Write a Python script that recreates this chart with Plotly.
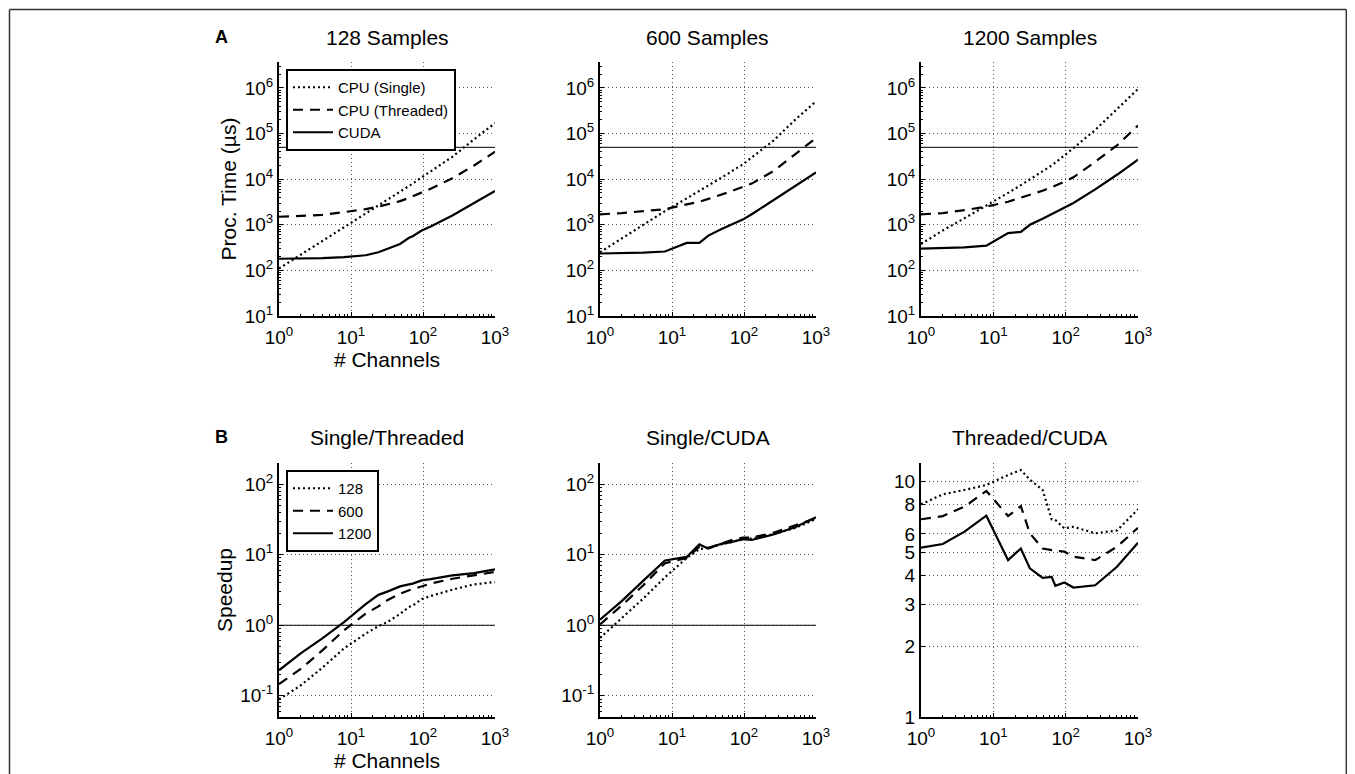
import plotly.graph_objects as go

channels = [1, 2, 4, 8, 16, 24, 32, 48, 64, 72, 96, 128, 256, 512, 1000]

# Panel A: processing time (µs)
t128_single = [110, 220, 440, 880, 1800, 2600, 3500, 5300, 7000, 8000, 11000, 15000, 31000, 75000, 170000]
t128_thread = [1500, 1550, 1650, 1900, 2200, 2500, 2800, 3300, 3900, 4200, 5200, 6200, 10500, 20000, 40000]
t128_cuda = [180, 182, 185, 195, 215, 250, 300, 380, 520, 560, 750, 920, 1600, 3000, 5500]

t600_single = [250, 500, 1000, 2000, 3800, 5500, 7200, 10500, 14000, 16000, 21000, 30000, 70000, 200000, 510000]
t600_thread = [1700, 1800, 2000, 2200, 2800, 3200, 3700, 4500, 5300, 5700, 6800, 8000, 15000, 35000, 80000]
t600_cuda = [235, 238, 245, 260, 400, 400, 580, 800, 980, 1050, 1300, 1700, 3500, 7000, 14000]

t1200_single = [380, 750, 1400, 2600, 5000, 7400, 9800, 15000, 20000, 23000, 33000, 48000, 120000, 350000, 950000]
t1200_thread = [1700, 1800, 2100, 2500, 3200, 3900, 4500, 5600, 6700, 7200, 8800, 11000, 24000, 55000, 150000]
t1200_cuda = [300, 305, 320, 350, 660, 700, 1000, 1350, 1700, 1900, 2300, 3000, 6000, 12500, 27000]

time_limit = [50000, 50000]

# Panel B: speedups
st_128 = [0.089, 0.14, 0.25, 0.47, 0.76, 0.97, 1.11, 1.45, 1.82, 1.9, 2.35, 2.6, 3.2, 3.8, 4.1]
st_600 = [0.146, 0.24, 0.44, 0.85, 1.46, 1.85, 2.26, 2.8, 3.13, 3.25, 3.65, 3.9, 4.57, 5.1, 5.7]
st_1200 = [0.23, 0.4, 0.65, 1.11, 2.0, 2.7, 3.0, 3.56, 3.8, 3.9, 4.33, 4.5, 5.1, 5.5, 6.2]

sc_128 = [0.66, 1.25, 2.4, 4.8, 9.0, 12.0, 12.5, 14, 15, 15.5, 16.5, 17, 19.5, 24, 32]
sc_600 = [1.03, 1.9, 3.7, 7.6, 9.0, 13, 12.5, 14.5, 16, 16.5, 17.5, 17.5, 20.5, 26, 33]
sc_1200 = [1.2, 2.2, 4.3, 8.3, 9.3, 14, 12.2, 14.3, 15, 15.5, 16.6, 16.2, 19.4, 24.5, 34]

tc_128 = [8.01, 8.83, 9.22, 9.68, 10.67, 11.2, 10.2, 9.22, 6.92, 6.87, 6.33, 6.43, 6.03, 6.2, 7.63]
tc_600 = [6.92, 7.14, 7.83, 9.13, 7.14, 7.87, 6.03, 5.2, 5.12, 5.1, 5.04, 4.8, 4.64, 5.29, 6.37]
tc_1200 = [5.24, 5.43, 6.13, 7.17, 4.64, 5.2, 4.28, 3.9, 3.94, 3.61, 3.73, 3.55, 3.63, 4.35, 5.5]

speedup_ref = [1, 1]

top_titles = ["128 Samples", "600 Samples", "1200 Samples"]
bottom_titles = ["Single/Threaded", "Single/CUDA", "Threaded/CUDA"]
time_names = ["CPU (Single)", "CPU (Threaded)", "CUDA"]
sample_names = ["128", "600", "1200"]

x_ticks = [1, 10, 100, 1000]
x_ticktext = ["10<sup>0</sup>", "10<sup>1</sup>", "10<sup>2</sup>", "10<sup>3</sup>"]
time_ticks = [10, 100, 1e3, 1e4, 1e5, 1e6]
time_ticktext = ["10<sup>1</sup>", "10<sup>2</sup>", "10<sup>3</sup>", "10<sup>4</sup>", "10<sup>5</sup>", "10<sup>6</sup>"]
sp_ticks = [0.1, 1, 10, 100]
sp_ticktext = ["10<sup>-1</sup>", "10<sup>0</sup>", "10<sup>1</sup>", "10<sup>2</sup>"]
tc_ticks = [1, 2, 3, 4, 5, 6, 8, 10]
tc_ticktext = ["1", "2", "3", "4", "5", "6", "8", "10"]

# The page body keeps its default 8px margin; positions below are window pixels.
OFF = 8
W, H = 1355 - 2 * OFF, 800
FONT = "Liberation Sans, Arial, Helvetica, sans-serif"
DASHES = ["2px,3px", "10px,7px", "solid"]
TICK_SIZE = 19
TITLE_SIZE = 21

fig = go.Figure()

xdoms = [(279, 495), (600, 816), (921, 1138)]
ydom_top = (62, 316)
ydom_bot = (463, 717)


def fx(px):
    return (px - OFF) / W


def fy(py):
    return 1 - (py - OFF) / H


def minor_vals(lo, hi):
    vals = []
    for k in range(lo, hi):
        for m in range(2, 10):
            vals.append(m * 10 ** k)
    return vals


top_data = [
    [t128_single, t128_thread, t128_cuda],
    [t600_single, t600_thread, t600_cuda],
    [t1200_single, t1200_thread, t1200_cuda],
]
bot_data = [
    [st_128, st_600, st_1200],
    [sc_128, sc_600, sc_1200],
    [tc_128, tc_600, tc_1200],
]

for i in range(3):
    idx = i + 1
    xa = "x" if idx == 1 else f"x{idx}"
    ya = "y" if idx == 1 else f"y{idx}"
    fig.add_trace(go.Scatter(x=[1, 1000], y=time_limit, mode="lines", xaxis=xa, yaxis=ya,
                             showlegend=False, hoverinfo="skip", line=dict(color="black", width=1)))
    for j, series in enumerate(top_data[i]):
        fig.add_trace(go.Scatter(
            x=channels, y=series, mode="lines", xaxis=xa, yaxis=ya,
            name=time_names[j], showlegend=(i == 0), legend="legend",
            line=dict(color="black", width=2.2, dash=DASHES[j]),
        ))
    idx2 = i + 4
    xb = f"x{idx2}"
    yb = f"y{idx2}"
    if i < 2:
        fig.add_trace(go.Scatter(x=[1, 1000], y=speedup_ref, mode="lines", xaxis=xb, yaxis=yb,
                                 showlegend=False, hoverinfo="skip", line=dict(color="black", width=1)))
    for j, series in enumerate(bot_data[i]):
        fig.add_trace(go.Scatter(
            x=channels, y=series, mode="lines", xaxis=xb, yaxis=yb,
            name=sample_names[j], showlegend=(i == 0), legend="legend2",
            line=dict(color="black", width=2.2, dash=DASHES[j]),
        ))

common = dict(
    type="log", showline=True, linecolor="black", linewidth=2, mirror=False,
    ticks="inside", ticklen=4, tickcolor="black", tickwidth=1,
    showgrid=True, gridcolor="#555555", griddash="1px,3px", gridwidth=1,
    zeroline=False, automargin=False, tickfont=dict(size=TICK_SIZE, color="black", family=FONT),
)

layout_axes = {}
for i in range(3):
    a, b = xdoms[i]
    for row in range(2):
        idx = i + 1 + 3 * row
        xkey = "xaxis" if idx == 1 else f"xaxis{idx}"
        ykey = "yaxis" if idx == 1 else f"yaxis{idx}"
        xname = "x" if idx == 1 else f"x{idx}"
        yname = "y" if idx == 1 else f"y{idx}"
        xax = dict(common)
        xax.update(domain=[fx(a), fx(b)], anchor=yname, range=[0, 3],
                   tickmode="array", tickvals=x_ticks, ticktext=x_ticktext,
                   ticklabelstandoff=3,
                   minor=dict(ticks="inside", ticklen=2, tickcolor="black",
                              tickmode="array", tickvals=minor_vals(0, 3), showgrid=False))
        yax = dict(common)
        top, bot = ydom_top if row == 0 else ydom_bot
        yax.update(domain=[fy(bot), fy(top)], anchor=xname)
        if row == 0:
            yax.update(range=[1, 6.57], tickmode="array", tickvals=time_ticks, ticktext=time_ticktext,
                       minor=dict(ticks="inside", ticklen=2, tickcolor="black",
                                  tickmode="array", tickvals=minor_vals(1, 7), showgrid=False))
        elif i < 2:
            yax.update(range=[-1.301, 2.301], tickmode="array", tickvals=sp_ticks, ticktext=sp_ticktext,
                       minor=dict(ticks="inside", ticklen=2, tickcolor="black",
                                  tickmode="array", tickvals=minor_vals(-2, 3), showgrid=False))
        else:
            yax.update(range=[0, 1.0792], tickmode="array", tickvals=tc_ticks, ticktext=tc_ticktext)
        if i == 0:
            xax["title"] = dict(text="# Channels", font=dict(size=TITLE_SIZE, family=FONT, color="black"), standoff=0)
            yax["title"] = dict(text="Proc. Time (µs)" if row == 0 else "Speedup",
                                font=dict(size=TITLE_SIZE, family=FONT, color="black"), standoff=2)
        layout_axes[xkey] = xax
        layout_axes[ykey] = yax

fig.update_layout(**layout_axes)

annotations = []
centers = [(a + b) / 2 for a, b in xdoms]
for i in range(3):
    annotations.append(dict(text=top_titles[i], x=fx(centers[i]), y=fy(38), xref="paper", yref="paper",
                            showarrow=False, xanchor="center", yanchor="middle",
                            font=dict(size=TITLE_SIZE, family=FONT, color="black")))
    annotations.append(dict(text=bottom_titles[i], x=fx(centers[i]), y=fy(437), xref="paper", yref="paper",
                            showarrow=False, xanchor="center", yanchor="middle",
                            font=dict(size=TITLE_SIZE, family=FONT, color="black")))
annotations.append(dict(text="<b>A</b>", x=fx(213), y=fy(37), xref="paper", yref="paper", showarrow=False,
                        xanchor="left", yanchor="middle", font=dict(size=18, family=FONT, color="black")))
annotations.append(dict(text="<b>B</b>", x=fx(213), y=fy(437), xref="paper", yref="paper", showarrow=False,
                        xanchor="left", yanchor="middle", font=dict(size=18, family=FONT, color="black")))

frame = dict(color="#333", width=1.5)
fig.update_layout(
    width=W, height=H,
    margin=dict(l=0, r=0, t=0, b=0, pad=0, autoexpand=False),
    paper_bgcolor="white", plot_bgcolor="white",
    font=dict(family=FONT, color="black"),
    annotations=annotations,
    legend=dict(x=fx(286), y=fy(69), xanchor="left", yanchor="top",
                bordercolor="black", borderwidth=2, bgcolor="white",
                font=dict(size=15, family=FONT, color="black"),
                tracegroupgap=0, itemwidth=40),
    legend2=dict(x=fx(286), y=fy(470), xanchor="left", yanchor="top",
                 bordercolor="black", borderwidth=2, bgcolor="white",
                 font=dict(size=15, family=FONT, color="black"),
                 tracegroupgap=0, itemwidth=40),
    shapes=[dict(type="line", xref="paper", yref="paper", x0=fx(9.5), x1=fx(9.5), y0=0, y1=fy(9.5), line=frame),
            dict(type="line", xref="paper", yref="paper", x0=fx(9.5), x1=0.9995, y0=fy(9.5), y1=fy(9.5), line=frame),
            dict(type="line", xref="paper", yref="paper", x0=0.9995, x1=0.9995, y0=0, y1=fy(9.5), line=frame)],
)

fig.write_html("out.html", config={"displayModeBar": False})
